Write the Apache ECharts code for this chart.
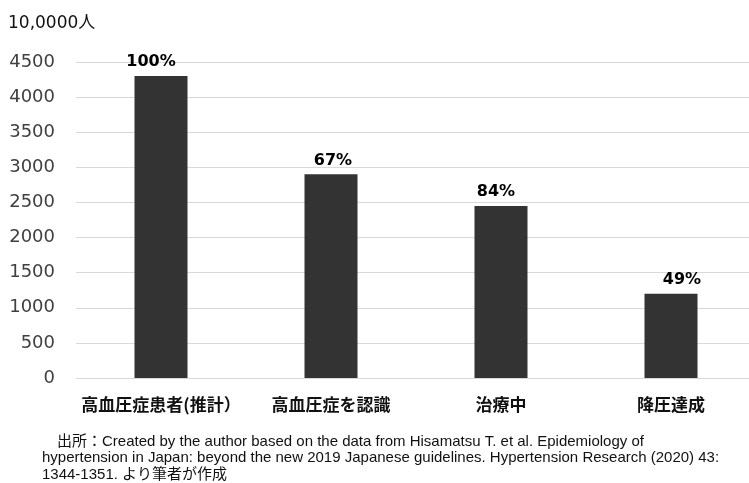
<!DOCTYPE html>
<html>
<head>
<meta charset="utf-8">
<script src="https://cdn.jsdelivr.net/npm/echarts@6/dist/echarts.min.js"></script>
<style>
  html, body { margin: 0; padding: 0; background: #fff; }
  #chart { width: 749px; height: 483px; }
</style>
</head>
<body>
<div id="chart"></div>
<script>
var categories = ['高血圧症患者(推計）', '高血圧症を認識', '治療中', '降圧達成'];
var patients = [4300, 2900, 2450, 1200];
var rateLabels = ['100%', '67%', '84%', '49%'];
var yTicks = { min: 0, max: 4500, interval: 500 };
var noteLines = [
  '\u3000出所：Created by the author based on the data from Hisamatsu T. et al. Epidemiology of',
  'hypertension in Japan: beyond the new 2019 Japanese guidelines. Hypertension Research (2020) 43:',
  '1344-1351. より筆者が作成'
];

// label nudges as placed in the original slide
var labelShift = [-10, 2, -5, 11];

var font = '"DejaVu Sans", "Noto Sans CJK JP", sans-serif';

var option = {
  animation: false,
  backgroundColor: '#fff',
  grid: { left: 76, top: 62, width: 680, height: 316, outerBoundsMode: 'none' },
  xAxis: {
    type: 'category',
    data: categories,
    axisLine: { show: false },
    axisTick: { show: false },
    axisLabel: {
      interval: 0,
      margin: 18,
      color: '#111',
      fontSize: 17,
      fontWeight: 'bold',
      fontFamily: '"Noto Sans CJK JP", sans-serif'
    }
  },
  yAxis: {
    type: 'value',
    min: yTicks.min,
    max: yTicks.max,
    interval: yTicks.interval,
    name: '10,0000人',
    nameLocation: 'end',
    nameGap: 30,
    nameTextStyle: { color: '#111', fontSize: 17, align: 'left', padding: [0, 0, 0, -68], fontFamily: font },
    axisLine: { show: false },
    axisTick: { show: false },
    axisLabel: { color: '#404040', fontSize: 18, margin: 21, fontFamily: font, formatter: function (v) { return String(v); } },
    splitLine: { lineStyle: { color: '#d9d9d9', width: 1 } }
  },
  series: [{
    type: 'bar',
    data: patients.map(function (v, i) {
      return { value: v, label: { offset: [labelShift[i], 0] } };
    }),
    barWidth: 53,
    itemStyle: { color: '#333333' },
    label: {
      show: true,
      position: 'top',
      distance: 6,
      color: '#000',
      fontSize: 16,
      fontWeight: 'bold',
      fontFamily: font,
      formatter: function (p) { return rateLabels[p.dataIndex]; }
    }
  }],
  graphic: noteLines.map(function (t, i) {
    return {
      type: 'text',
      x: 42,
      y: 434 + i * 16.5,
      style: { text: t, fontSize: 15, fill: '#111', fontFamily: '"Liberation Sans", "Noto Sans CJK JP", sans-serif' }
    };
  })
};

var chart = echarts.init(document.getElementById('chart'));
chart.setOption(option);
window.addEventListener('resize', function () { chart.resize(); });
</script>
</body>
</html>
